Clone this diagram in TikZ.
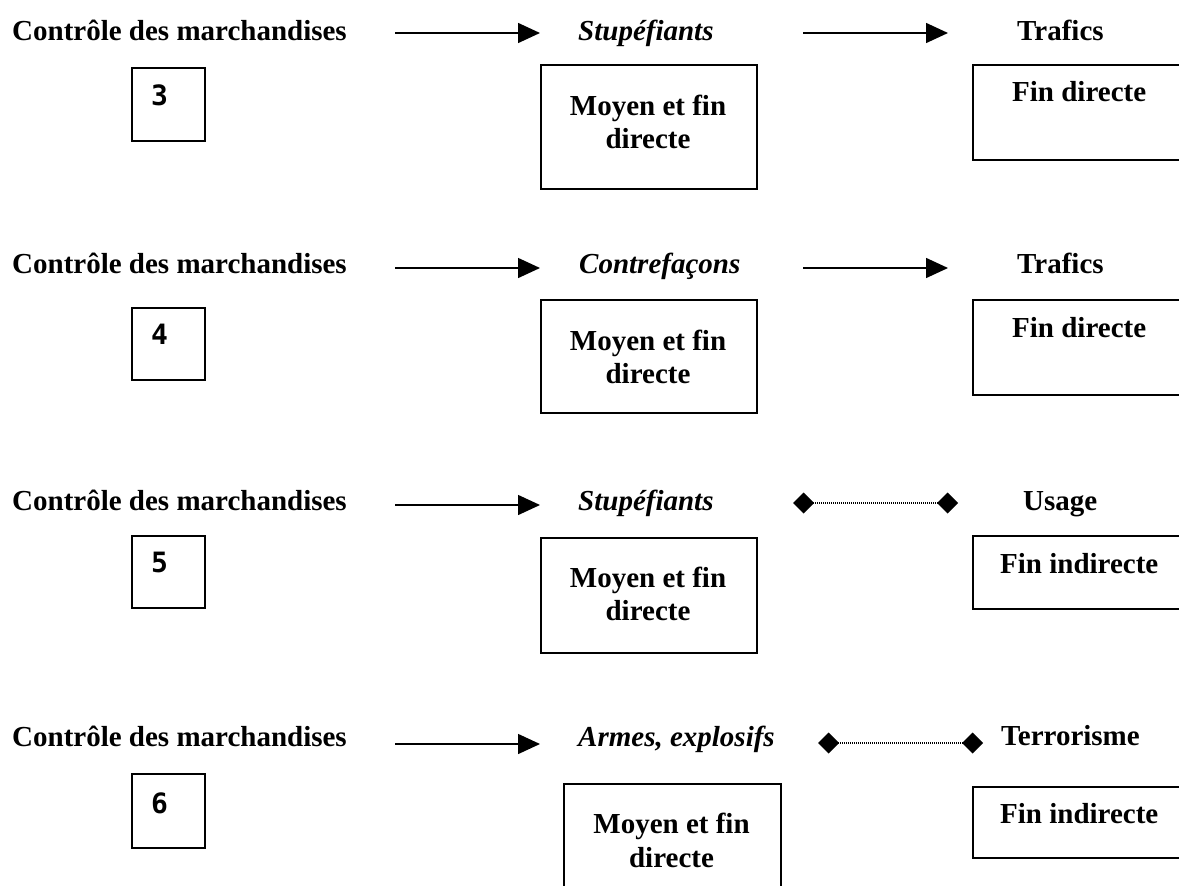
\documentclass[tikz,border=0pt]{standalone}
\usepackage{fontspec}
\setmainfont{Liberation Serif}
\newfontfamily\digitfont{DejaVu Sans Mono}
\usetikzlibrary{arrows.meta}
\begin{document}
\begin{tikzpicture}[x=1pt,y=-1pt,
  txt/.style={inner sep=0pt, anchor=base west, font=\fontsize{29}{33.4}\selectfont\bfseries},
  ctxt/.style={txt, anchor=base},
  itx/.style={txt, font=\fontsize{29}{33.4}\selectfont\bfseries\itshape},
  dig/.style={inner sep=0pt, anchor=base west, font=\digitfont\fontsize{28}{30}\selectfont\bfseries},
  box/.style={draw, line width=1.5pt, inner sep=0pt, anchor=north west},
  arr/.style={line width=1.5pt, -{Triangle[length=22pt,width=20pt]}},
  link/.style={line width=1.3pt, dash pattern=on 1pt off 1pt,
    {Diamond[length=21pt,width=21pt]}-{Diamond[length=21pt,width=21pt]}}]
\useasboundingbox (0,0) rectangle (1179,886);
\clip (0,0) rectangle (1179,886);

% ---------- row 3 : stupefiants / trafics ----------
\node[txt] (t1) at (12,40) {Contrôle des marchandises};
\node[box, minimum width=73pt, minimum height=73pt] (n1) at (131,67) {};
\node[dig] (d1) at (151,105) {3};
\coordinate (a1s) at (395,33); \coordinate (a1e) at (540,33);
\draw[arr] (a1s) -- (a1e);
\node[itx] (s1) at (578,40) {Stupéfiants};
\node[box, minimum width=216pt, minimum height=124pt] (m1) at (540,64) {};
\node[ctxt] (m1a) at (648,115) {Moyen et fin};
\node[ctxt] (m1b) at (648,148) {directe};
\coordinate (b1s) at (803,33); \coordinate (b1e) at (948,33);
\draw[arr] (b1s) -- (b1e);
\node[txt] (r1) at (1017,40) {Trafics};
\node[box, minimum width=230pt, minimum height=95pt] (f1) at (972,64) {};
\node[txt] (f1t) at (1012,101) {Fin directe};

% ---------- row 4 : contrefacons / trafics ----------
\node[txt] (t2) at (12,273) {Contrôle des marchandises};
\node[box, minimum width=73pt, minimum height=72pt] (n2) at (131,307) {};
\node[dig] (d2) at (151,344) {4};
\coordinate (a2s) at (395,268); \coordinate (a2e) at (540,268);
\draw[arr] (a2s) -- (a2e);
\node[itx] (s2) at (579,273) {Contrefaçons};
\node[box, minimum width=216pt, minimum height=113pt] (m2) at (540,299) {};
\node[ctxt] (m2a) at (648,350) {Moyen et fin};
\node[ctxt] (m2b) at (648,383) {directe};
\coordinate (b2s) at (803,268); \coordinate (b2e) at (948,268);
\draw[arr] (b2s) -- (b2e);
\node[txt] (r2) at (1017,273) {Trafics};
\node[box, minimum width=230pt, minimum height=95pt] (f2) at (972,299) {};
\node[txt] (f2t) at (1012,337) {Fin directe};

% ---------- row 5 : stupefiants / usage ----------
\node[txt] (t3) at (12,510) {Contrôle des marchandises};
\node[box, minimum width=73pt, minimum height=72pt] (n3) at (131,535) {};
\node[dig] (d3) at (151,572) {5};
\coordinate (a3s) at (395,505); \coordinate (a3e) at (540,505);
\draw[arr] (a3s) -- (a3e);
\node[itx] (s3) at (578,510) {Stupéfiants};
\node[box, minimum width=216pt, minimum height=115pt] (m3) at (540,537) {};
\node[ctxt] (m3a) at (648,587) {Moyen et fin};
\node[ctxt] (m3b) at (648,620) {directe};
\coordinate (b3s) at (793,503); \coordinate (b3e) at (958,503);
\draw[link] (b3s) -- (b3e);
\node[txt] (r3) at (1023,510) {Usage};
\node[box, minimum width=230pt, minimum height=73pt] (f3) at (972,535) {};
\node[txt] (f3t) at (1000,573) {Fin indirecte};

% ---------- row 6 : armes / terrorisme ----------
\node[txt] (t4) at (12,746) {Contrôle des marchandises};
\node[box, minimum width=73pt, minimum height=74pt] (n4) at (131,773) {};
\node[dig] (d4) at (151,813) {6};
\coordinate (a4s) at (395,744); \coordinate (a4e) at (540,744);
\draw[arr] (a4s) -- (a4e);
\node[itx] (s4) at (578,746) {Armes, explosifs};
\node[box, minimum width=217pt, minimum height=130pt] (m4) at (563,783) {};
\node[ctxt] (m4a) at (671.5,833) {Moyen et fin};
\node[ctxt] (m4b) at (671.5,867) {directe};
\coordinate (b4s) at (818,743); \coordinate (b4e) at (983,743);
\draw[link] (b4s) -- (b4e);
\node[txt] (r4) at (1001,745) {Terrorisme};
\node[box, minimum width=230pt, minimum height=71pt] (f4) at (972,786) {};
\node[txt] (f4t) at (1000,823) {Fin indirecte};
\end{tikzpicture}
\end{document}
